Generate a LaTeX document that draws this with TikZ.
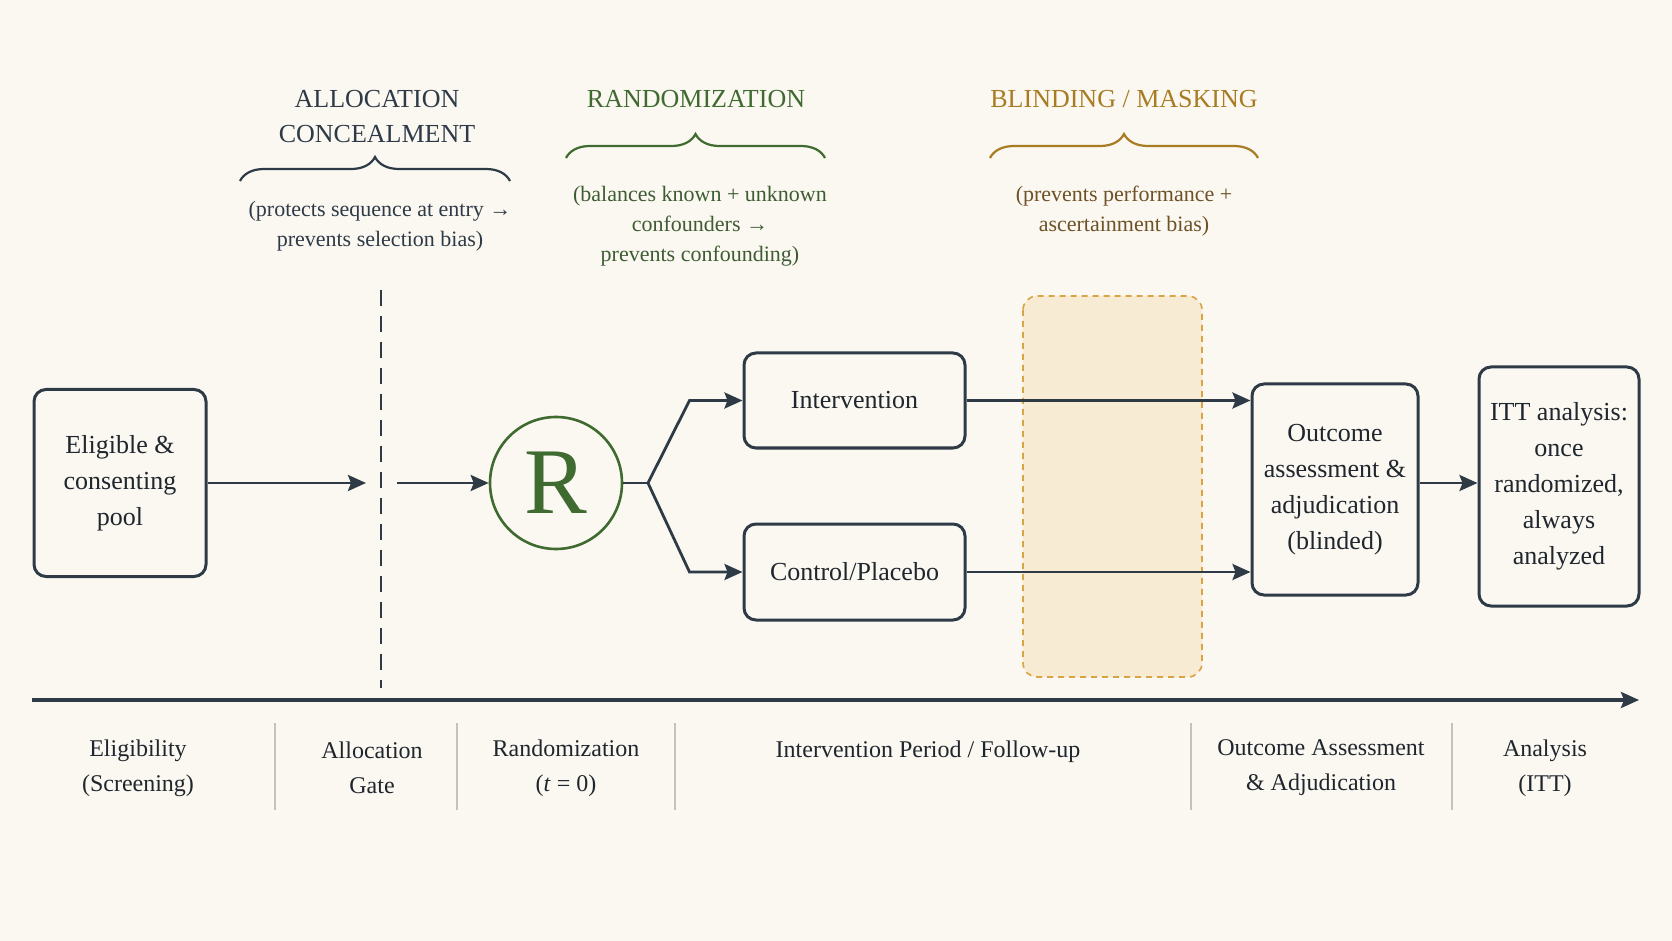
\documentclass[tikz,border=0pt]{standalone}
\usepackage{fontspec}
\setmainfont{Liberation Serif}
\usetikzlibrary{arrows.meta, positioning, calc, decorations.pathreplacing}

\definecolor{paper}{HTML}{FBF8F1}
\definecolor{ink}{HTML}{2E3B47}
\definecolor{boxtext}{HTML}{1F262D}
\definecolor{randgreen}{HTML}{3F6A30}
\definecolor{randnote}{HTML}{3E5C33}
\definecolor{blindgold}{HTML}{A87C22}
\definecolor{blindnote}{HTML}{6E5126}
\definecolor{maskfill}{HTML}{F8EBD3}
\definecolor{maskedge}{HTML}{D8A444}
\definecolor{sepgray}{HTML}{C4C2BC}

\begin{document}
\begin{tikzpicture}[x=0.5pt, y=-0.5pt, >={Stealth[length=9pt, width=8pt, inset=1.5pt]},
  stagebox/.style={draw=ink, line width=1.5pt, rounded corners=6pt, align=center,
    text=boxtext, inner sep=2pt, font=\fontsize{13}{18}\selectfont},
  flow/.style={->, draw=ink, line width=1.4pt},
  header/.style={align=center, font=\fontsize{13}{17.5}\selectfont},
  note/.style={align=center, font=\fontsize{11}{15}\selectfont},
  phase/.style={align=center, text=boxtext, font=\fontsize{12}{17.5}\selectfont},
  brace/.style={decorate, decoration={brace, amplitude=12pt}, line width=1.1pt}]

  % page
  \fill[paper] (0,0) rectangle (1672,941);

  % masked window
  \draw[maskedge, fill=maskfill, line width=0.8pt, dash pattern=on 3pt off 2.5pt,
    rounded corners=7pt] (1023,296) rectangle (1202,677);

  % headers with braces
  \node[header, text=ink] (allochead) at (377,117) {ALLOCATION\\CONCEALMENT};
  \coordinate (allocL) at (240,181);
  \coordinate (allocR) at (510,181);
  \draw[brace, ink] (allocL) -- (allocR);
  \node[note, text=ink] (allocnote) at (380,226)
    {(protects sequence at entry →\\prevents selection bias)};

  \node[header, text=randgreen] (randhead) at (696,99) {RANDOMIZATION};
  \coordinate (randL) at (566,158);
  \coordinate (randR) at (825,158);
  \draw[brace, randgreen] (randL) -- (randR);
  \node[note, text=randnote] (randnote) at (700,226)
    {(balances known + unknown\\confounders →\\prevents confounding)};

  \node[header, text=blindgold] (blindhead) at (1124,99) {BLINDING / MASKING};
  \coordinate (blindL) at (990,158);
  \coordinate (blindR) at (1258,158);
  \draw[brace, blindgold] (blindL) -- (blindR);
  \node[note, text=blindnote] (blindnote) at (1124,211)
    {(prevents performance +\\ascertainment bias)};

  % flow
  \node[stagebox, minimum width=86pt, minimum height=93.5pt] (pool) at (120,483)
    {Eligible \&\\consenting\\pool};
  \coordinate (gatetop) at (381,290);
  \coordinate (gatebot) at (381,688);
  \draw[ink, line width=1.4pt, dash pattern=on 8pt off 5pt] (gatetop) -- (gatebot);
  \coordinate (gatein) at (366,483);
  \coordinate (gateout) at (397,483);
  \node[circle, draw=randgreen, line width=1.3pt, minimum size=66pt, inner sep=0pt,
    text=randgreen, font=\fontsize{47}{47}\selectfont] (rand) at (556,483) {R};
  \node[stagebox, minimum width=110.5pt, minimum height=47.5pt] (interv) at (854.5,400.5)
    {Intervention};
  \node[stagebox, minimum width=110.5pt, minimum height=48pt, below=36.5pt of interv]
    (control) {Control/Placebo};
  \node[stagebox, minimum width=83pt, minimum height=105.5pt] (outcome) at (1335,489.5)
    {Outcome\\assessment \&\\adjudication\\(blinded)};
  \node[stagebox, minimum width=80pt, minimum height=119.5pt] (itt) at (1559,486.5)
    {ITT analysis:\\once\\randomized,\\always\\analyzed};

  \draw[flow] (pool.east) -- (gatein);
  \draw[flow] (gateout) -- (rand.west);
  \coordinate (split) at (648,483);
  \draw[ink, line width=1.4pt] (rand.east) -- (split);
  \draw[flow] (split) -- ([xshift=-26.5pt]interv.west) -- (interv.west);
  \draw[flow] (split) -- ([xshift=-26.5pt]control.west) -- (control.west);
  \draw[flow] (interv.east) -- (interv.east -| outcome.west);
  \draw[flow] (control.east) -- (control.east -| outcome.west);
  \draw[flow] (outcome.east |- pool.east) -- (itt.west |- pool.east);

  % timeline
  \coordinate (tstart) at (32,700);
  \coordinate (tend) at (1639,700);
  \draw[->, ink, line width=1.6pt] (tstart) -- (tend);
  \foreach \sx in {275,457,675,1191,1452}
    \draw[sepgray, line width=0.8pt] (\sx,723) -- (\sx,810);

  \node[phase] (elig) at (138,768) {Eligibility\\(Screening)};
  \node[phase] (alloc) at (372,768) {Allocation\\Gate};
  \node[phase] (randph) at (566,768) {Randomization\\(\textit{t} = 0)};
  \node[phase] (follow) at (928,752) {Intervention Period / Follow-up};
  \node[phase] (assess) at (1321,768) {Outcome Assessment\\\& Adjudication};
  \node[phase] (analysis) at (1545,768) {Analysis\\(ITT)};
\end{tikzpicture}
\end{document}
